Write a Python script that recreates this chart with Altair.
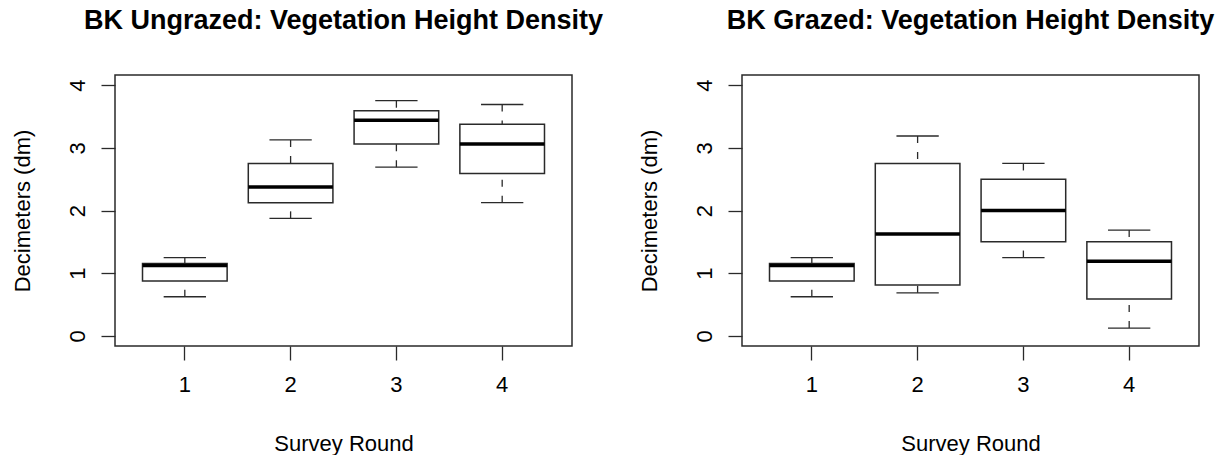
import altair as alt
import pandas as pd

rounds = ["1", "2", "3", "4"]

ung_min = [0.625, 1.875, 2.69, 2.125]
ung_q1 = [0.875, 2.125, 3.06, 2.59]
ung_med = [1.125, 2.375, 3.44, 3.06]
ung_q3 = [1.155, 2.75, 3.59, 3.375]
ung_max = [1.25, 3.125, 3.75, 3.69]

gr_min = [0.625, 0.6875, 1.25, 0.125]
gr_q1 = [0.875, 0.8125, 1.5, 0.59]
gr_med = [1.125, 1.625, 2.0, 1.19]
gr_q3 = [1.155, 2.75, 2.5, 1.5]
gr_max = [1.25, 3.1875, 2.75, 1.6875]

y_ticks = [0, 1, 2, 3, 4]

FONT = "Liberation Sans"
LINE = "#2a2a2a"
W, H = 457, 271
STEP = W / 4.32


def panel(title, mn, q1, med, q3, mx):
    df = pd.DataFrame({"round": rounds, "mn": mn, "q1": q1, "med": med, "q3": q3, "mx": mx})
    xenc = alt.X(
        "round:O",
        sort=rounds,
        scale=alt.Scale(paddingInner=0.2, paddingOuter=0.26),
        axis=alt.Axis(
            title="Survey Round", labelAngle=0, labelBaseline="alphabetic", labelPadding=31,
            tickSize=14, tickColor=LINE, tickWidth=1.3, domain=False, grid=False,
            labelFont=FONT, labelFontSize=22, labelColor="black",
            titleFont=FONT, titleFontSize=22, titleFontWeight="normal", titleColor="black",
            titleBaseline="alphabetic", titleX=W / 2, titleY=104, titleAlign="center",
        ),
    )
    yscale = alt.Scale(domain=[-0.16, 4.16], nice=False, zero=False)
    yaxis = alt.Axis(
        values=y_ticks, title="Decimeters (dm)", labelAngle=270, labelAlign="center",
        labelBaseline="alphabetic", labelPadding=17, tickSize=14, tickColor=LINE, tickWidth=1.3,
        domain=False, grid=False, labelFlush=False, labelOverlap=False,
        labelFont=FONT, labelFontSize=22, labelColor="black",
        titleFont=FONT, titleFontSize=22, titleFontWeight="normal", titleColor="black",
        titleAngle=270, titleBaseline="alphabetic", titleX=-86, titleY=H / 2, titleAlign="center",
    )
    base = alt.Chart(df)
    w_up = base.mark_rule(color=LINE, strokeWidth=1.3, strokeDash=[7, 9], opacity=1).encode(
        x=xenc, y=alt.Y("mx:Q", scale=yscale, axis=yaxis), y2="q3:Q")
    w_lo = base.mark_rule(color=LINE, strokeWidth=1.3, strokeDash=[7, 9], opacity=1).encode(
        x=xenc, y=alt.Y("mn:Q", scale=yscale, axis=yaxis), y2="q1:Q")
    box = base.mark_bar(fill="white", stroke=LINE, strokeWidth=1.5, opacity=1).encode(
        x=xenc, y=alt.Y("q1:Q", scale=yscale, axis=yaxis), y2="q3:Q")
    medl = base.mark_tick(color="black", size=STEP * 0.8, thickness=3.5, opacity=1).encode(
        x=xenc, y=alt.Y("med:Q", scale=yscale, axis=yaxis))
    st_up = base.mark_tick(color=LINE, size=STEP * 0.4, thickness=1.3, opacity=1).encode(
        x=xenc, y=alt.Y("mx:Q", scale=yscale, axis=yaxis))
    st_lo = base.mark_tick(color=LINE, size=STEP * 0.4, thickness=1.3, opacity=1).encode(
        x=xenc, y=alt.Y("mn:Q", scale=yscale, axis=yaxis))
    return alt.layer(w_up, w_lo, box, medl, st_up, st_lo).properties(
        width=W, height=H,
        title=alt.TitleParams(
            text=title, font=FONT, fontSize=27, fontWeight="bold", color="black",
            anchor="middle", frame="group", baseline="alphabetic", offset=19,
        ),
    )


left = panel("BK Ungrazed: Vegetation Height Density", ung_min, ung_q1, ung_med, ung_q3, ung_max)
right = panel("BK Grazed: Vegetation Height Density", gr_min, gr_q1, gr_med, gr_q3, gr_max)

chart = alt.hconcat(left, right, spacing=33).properties(
    padding={"left": 10, "top": 6, "right": 0, "bottom": 0},
    background="white",
).configure_view(stroke=LINE, strokeWidth=1.5)

chart.save("out.html", embed_options={"renderer": "svg", "actions": False})
